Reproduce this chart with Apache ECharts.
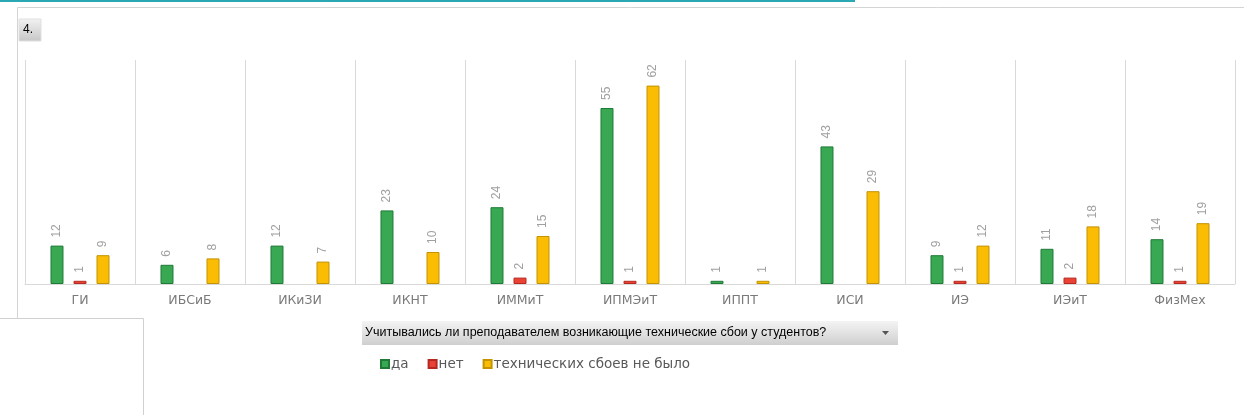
<!DOCTYPE html>
<html>
<head>
<meta charset="utf-8">
<script src="https://cdn.jsdelivr.net/npm/echarts@6/dist/echarts.min.js"></script>
<style>
html,body{margin:0;padding:0;background:#fff;}
#c{width:1244px;height:415px;}
</style>
</head>
<body>
<div id="c"></div>
<script>
const categories = ['ГИ','ИБСиБ','ИКиЗИ','ИКНТ','ИММиТ','ИПМЭиТ','ИППТ','ИСИ','ИЭ','ИЭиТ','ФизМех'];
const seriesYes = [12, 6, 12, 23, 24, 55, 1, 43, 9, 11, 14];
const seriesNo = [1, null, null, null, 2, 1, null, null, 1, 2, 1];
const seriesNone = [9, 8, 7, 10, 15, 62, 1, 29, 12, 18, 19];
const seriesNames = ['да', 'нет', 'технических сбоев не было'];
const fieldTitle = 'Учитывались ли преподавателем возникающие технические сбои у студентов?';

const chart = echarts.init(document.getElementById('c'), null, {renderer: 'canvas'});

function mkSeries(name, data, fill, border) {
  return {
    name: name,
    type: 'bar',
    data: data,
    barWidth: 13,
    barGap: '77%',
    itemStyle: {color: fill, borderColor: border, borderWidth: 1},
    label: {
      show: true,
      position: 'top',
      rotate: 90,
      align: 'left',
      verticalAlign: 'middle',
      distance: 8,
      color: '#a0a0a0',
      fontSize: 12,
      fontFamily: 'Liberation Sans, Arial, sans-serif'
    },
    emphasis: {disabled: true},
    animation: false
  };
}

chart.setOption({
  animation: false,
  textStyle: {fontFamily: 'Liberation Sans, Arial, sans-serif'},
  grid: {left: 25, right: 9, top: 60, bottom: 131, containLabel: false},
  xAxis: {
    type: 'category',
    data: categories,
    axisLine: {show: true, lineStyle: {color: '#d9d9d9', width: 1}},
    axisTick: {show: false},
    splitLine: {show: true, lineStyle: {color: '#d9d9d9', width: 1}},
    axisLabel: {color: '#7a7a7a', fontSize: 12.5, margin: 10, fontFamily: 'DejaVu Sans, Verdana, sans-serif'}
  },
  yAxis: {
    type: 'value',
    min: 0,
    max: 70,
    show: false,
    splitLine: {show: false}
  },
  legend: {
    left: 375,
    top: 352,
    itemWidth: 8,
    itemHeight: 8,
    itemGap: 19,
    icon: 'rect',
    textStyle: {color: '#595959', fontSize: 13.5, fontFamily: 'DejaVu Sans, Verdana, sans-serif', padding: [0, 0, 0, -3]},
    data: seriesNames
  },
  series: [
    mkSeries(seriesNames[0], seriesYes, '#38a852', '#1f7a38'),
    mkSeries(seriesNames[1], seriesNo, '#ea4335', '#b52a20'),
    mkSeries(seriesNames[2], seriesNone, '#fbbc04', '#c49300')
  ],
  graphic: [
    {type: 'rect', shape: {x: 0, y: 0, width: 855, height: 2}, style: {fill: '#2aa8b3'}, silent: true},
    {type: 'polyline', shape: {points: [[17.5, 318], [17.5, 7.5], [1244, 7.5]]}, style: {stroke: '#d4d4d4', fill: null, lineWidth: 1}, silent: true},
    {type: 'polyline', shape: {points: [[0, 318.5], [143.5, 318.5], [143.5, 415]]}, style: {stroke: '#d0d0d0', fill: null, lineWidth: 1}, silent: true},
    {type: 'rect', shape: {x: 19, y: 19, width: 22, height: 22},
      style: {fill: new echarts.graphic.LinearGradient(0, 0, 0, 1, [{offset: 0, color: '#f2f2f2'}, {offset: 1, color: '#c6c6c6'}]), stroke: '#e0e0e0'}, silent: true},
    {type: 'text', left: 23, top: 24, style: {text: '4.', fill: '#000', font: '12px Liberation Sans, Arial, sans-serif'}, silent: true},
    {type: 'rect', shape: {x: 362, y: 321, width: 536, height: 24},
      style: {fill: new echarts.graphic.LinearGradient(0, 0, 0, 1, [{offset: 0, color: '#f4f4f4'}, {offset: 1, color: '#cfcfcf'}])}, silent: true},
    {type: 'text', left: 365, top: 326, style: {text: fieldTitle, fill: '#000', font: '12.5px Liberation Sans, Arial, sans-serif'}, silent: true},
    {type: 'polygon', shape: {points: [[882, 331], [889, 331], [885.5, 335]]}, style: {fill: '#555'}, silent: true}
  ]
});
</script>
</body>
</html>
